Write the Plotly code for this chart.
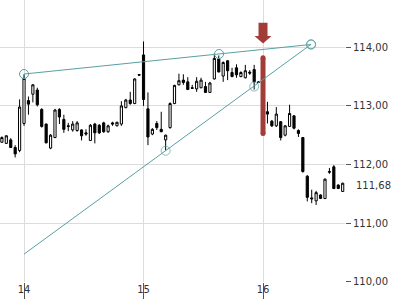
import plotly.graph_objects as go

# ---- data -------------------------------------------------------------
opens = [112.38, 112.36, 112.42, 112.29, 112.24, 112.70, 113.09, 113.20, 113.27, 112.94,
         112.69, 112.28, 112.46, 112.94, 112.77, 112.66, 112.59, 112.58, 112.59, 112.54,
         112.41, 112.69, 112.67, 112.71, 112.56, 112.71, 112.66, 112.69, 112.97, 113.10,
         113.04, 113.535, 113.87, 112.95, 112.52, 112.70, 112.60, 112.42, 112.63, 113.04,
         113.36, 113.44, 113.41, 113.31, 113.29, 113.31, 113.33, 113.23, 113.46, 113.80,
         113.51, 113.77, 113.57, 113.65, 113.50, 113.48, 113.575, 113.62, 113.41, 113.40,
         112.90, 112.74, 112.66, 112.73, 112.50, 112.65, 112.83, 112.58, 112.46, 111.80,
         111.43, 111.38, 111.48, 111.42, 111.88, 111.96, 111.65, 111.54]
highs = [112.48, 112.50, 112.45, 112.33, 113.11, 113.54, 113.16, 113.37, 113.31, 112.96,
         112.70, 112.52, 112.95, 112.96, 112.85, 112.71, 112.74, 112.74, 112.60, 112.60,
         112.69, 112.71, 112.69, 112.73, 112.68, 112.73, 112.73, 113.08, 113.12, 113.24,
         113.47, 113.54, 114.10, 113.23, 112.62, 112.74, 112.90, 112.51, 113.06, 113.36,
         113.55, 113.54, 113.49, 113.36, 113.49, 113.48, 113.41, 113.41, 113.89, 113.86,
         113.76, 113.78, 113.65, 113.71, 113.59, 113.70, 113.61, 113.70, 113.42, 113.58,
         113.07, 112.76, 112.98, 112.74, 112.67, 113.02, 112.84, 112.60, 112.47, 111.82,
         111.57, 111.55, 111.49, 111.76, 111.94, 111.99, 111.66, 111.69]
lows = [112.37, 112.35, 112.28, 112.12, 112.21, 112.66, 112.85, 113.06, 112.99, 112.63,
        112.36, 112.26, 112.45, 112.69, 112.54, 112.57, 112.56, 112.56, 112.41, 112.49,
        112.40, 112.36, 112.52, 112.54, 112.54, 112.66, 112.65, 112.66, 112.96, 113.02,
        113.03, 113.52, 113.00, 112.33, 112.50, 112.59, 112.55, 112.24, 112.61, 113.03,
        113.35, 113.36, 113.27, 113.29, 113.24, 113.30, 113.22, 113.22, 113.45, 113.57,
        113.41, 113.44, 113.49, 113.48, 113.49, 113.47, 113.53, 113.28, 113.39, 112.62,
        112.70, 112.64, 112.64, 112.41, 112.48, 112.64, 112.60, 112.47, 111.86, 111.37,
        111.34, 111.31, 111.41, 111.41, 111.84, 111.58, 111.585, 111.53]
closes = [112.46, 112.49, 112.29, 112.18, 112.98, 113.47, 113.03, 113.36, 113.02, 112.65,
          112.37, 112.50, 112.93, 112.81, 112.60, 112.65, 112.69, 112.71, 112.49, 112.52,
          112.67, 112.54, 112.54, 112.56, 112.66, 112.69, 112.72, 113.00, 113.10, 113.04,
          113.46, 113.525, 113.11, 112.47, 112.60, 112.63, 112.56, 112.50, 113.04, 113.35,
          113.43, 113.40, 113.28, 113.30, 113.42, 113.44, 113.23, 113.39, 113.81, 113.58,
          113.74, 113.60, 113.50, 113.53, 113.57, 113.60, 113.56, 113.41, 113.40, 112.80,
          112.86, 112.66, 112.86, 112.46, 112.66, 112.87, 112.62, 112.53, 111.88, 111.44,
          111.415, 111.52, 111.42, 111.75, 111.87, 111.59, 111.59, 111.68]

# time axis: day number, 27 bars per day, first day label "14" on bar index 5
bars_per_day = 27
first_day = 14
first_day_bar = 5
times = [first_day + (i - first_day_bar) / bars_per_day for i in range(len(closes))]

day_ticks = [14, 15, 16]
day_labels = ["14", "15", "16"]
price_ticks = [110, 111, 112, 113, 114]

# trend lines
trend1_x = [14.0, 15.632, 16.402]
trend1_y = [113.544, 113.886, 114.048]
trend2_x = [14.0, 15.185, 15.926, 16.402]
trend2_y = [110.47, 112.235, 113.33, 114.05]

# signal highlight
signal_bar = 59
signal_top = 113.82
signal_bottom = 112.53

teal = "#5a9fa3"
red = "#a23c36"

fig = go.Figure()

# signal highlight bar (behind candles)
fig.add_trace(go.Scatter(
    x=[times[signal_bar], times[signal_bar]], y=[signal_top, signal_bottom],
    mode="lines+markers", line=dict(color=red, width=5),
    marker=dict(color=red, size=5), hoverinfo="skip"))

fig.add_trace(go.Candlestick(
    x=times, open=opens, high=highs, low=lows, close=closes,
    increasing=dict(line=dict(color="black", width=1), fillcolor="white"),
    decreasing=dict(line=dict(color="black", width=1), fillcolor="black"),
    whiskerwidth=0))

fig.add_trace(go.Scatter(
    x=trend1_x, y=trend1_y, mode="lines+markers",
    line=dict(color=teal, width=1),
    marker=dict(symbol="circle-open", size=9, color=teal, line=dict(width=1))))
fig.add_trace(go.Scatter(
    x=trend2_x, y=trend2_y, mode="lines+markers",
    line=dict(color=teal, width=1),
    marker=dict(symbol="circle-open", size=[0, 9, 9, 9], color=teal, line=dict(width=1))))

# down arrow above the signal bar
fig.add_shape(
    type="path", xref="x", yref="paper",
    xsizemode="pixel", ysizemode="pixel",
    xanchor=times[signal_bar], yanchor=1,
    path="M -4.5,-22.7 L 4.5,-22.7 L 4.5,-36 L 8.5,-36 L 0,-43.5 L -8.5,-36 L -4.5,-36 Z",
    fillcolor=red, line=dict(width=0))

# last price label
fig.add_annotation(
    xref="paper", x=1, y=closes[-1], yref="y",
    text=f"{closes[-1]:.2f}".replace(".", ","), showarrow=False,
    xanchor="left", xshift=9, yshift=-2,
    font=dict(family="DejaVu Sans", size=10, color="#333"))

fig.update_layout(
    width=400, height=300,
    margin=dict(l=0, r=55, t=0, b=18),
    plot_bgcolor="white", paper_bgcolor="white",
    showlegend=False, separators=", ",
    font=dict(family="DejaVu Sans", size=10, color="#333"),
    xaxis=dict(
        range=[13.799, 16.686], tickvals=day_ticks, ticktext=day_labels,
        showgrid=True, gridcolor="#dcdcdc", gridwidth=1,
        ticks="outside", ticklen=16, tickcolor="#555",
        ticklabelstandoff=-18,
        zeroline=False, showline=False, rangeslider=dict(visible=False)),
    yaxis=dict(
        side="right", range=[109.995, 114.807], tickvals=price_ticks,
        tickformat=".2f", showgrid=True, gridcolor="#dcdcdc", gridwidth=1,
        ticks="outside", ticklen=5, tickcolor="#555",
        zeroline=False, showline=False),
)

fig.write_html("out.html")
